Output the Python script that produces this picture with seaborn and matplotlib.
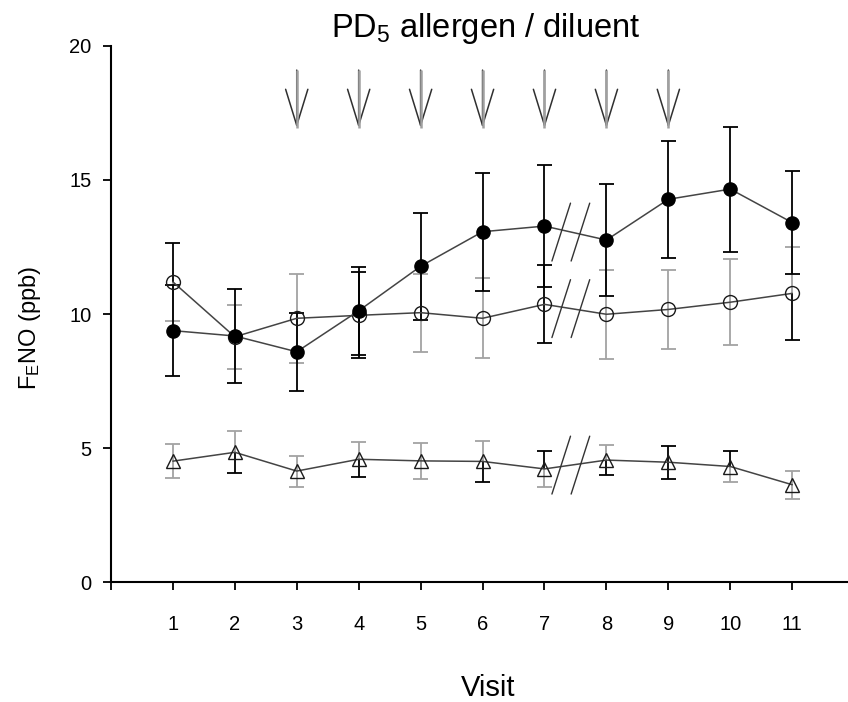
import numpy as np
import pandas as pd
import matplotlib
matplotlib.use("Agg")
import matplotlib.pyplot as plt
from matplotlib.patches import ArrowStyle
import seaborn as sns

# Visits and FENO summary values (mean and error) per group
visits = [1, 2, 3, 4, 5, 6, 7, 8, 9, 10, 11]
visit_labels = ["1", "2", "3", "4", "5", "6", "7", "8", "9", "10", "11"]

allergen_mean = [9.38, 9.18, 8.59, 10.12, 11.78, 13.07, 13.28, 12.76, 14.28, 14.66, 13.41]
allergen_err = [1.69, 1.74, 1.45, 1.65, 2.00, 2.20, 2.27, 2.09, 2.18, 2.33, 1.93]

diluent_mean = [11.20, 9.15, 9.84, 9.95, 10.05, 9.84, 10.36, 9.99, 10.17, 10.44, 10.77]
diluent_err = [1.45, 1.19, 1.65, 1.60, 1.45, 1.50, 1.45, 1.66, 1.47, 1.60, 1.74]
diluent_up_col = ["black", "gray", "gray", "black", "gray", "gray", "black", "gray", "gray", "gray", "gray"]
diluent_lo_col = ["gray", "gray", "gray", "black", "gray", "gray", "black", "gray", "gray", "gray", "black"]

control_mean = [4.51, 4.84, 4.14, 4.58, 4.52, 4.50, 4.22, 4.55, 4.47, 4.31, 3.63]
control_err = [0.63, 0.79, 0.58, 0.66, 0.68, 0.76, 0.68, 0.56, 0.62, 0.59, 0.53]
control_up_col = ["gray", "gray", "gray", "gray", "gray", "gray", "black", "gray", "black", "black", "gray"]
control_lo_col = ["gray", "black", "gray", "black", "gray", "black", "gray", "black", "black", "gray", "gray"]

challenge_visits = [3, 4, 5, 6, 7, 8, 9]
y_ticks = [0, 5, 10, 15, 20]

COLORS = {"black": "#000000", "gray": "#a3a3a3"}
LINE_COLOR = "#444444"
CAP_HALF = 0.12

sns.set_style("ticks")
plt.rcParams["font.family"] = ["Liberation Sans", "DejaVu Sans"]
plt.rcParams["mathtext.fontset"] = "custom"
plt.rcParams["mathtext.rm"] = "Liberation Sans"
plt.rcParams["mathtext.it"] = "Liberation Sans:italic"
for key in ("text.color", "axes.labelcolor", "xtick.color", "ytick.color",
            "xtick.labelcolor", "ytick.labelcolor"):
    plt.rcParams[key] = "black"

fig = plt.figure(figsize=(8.48, 7.02), dpi=100)
ax = fig.add_axes([0.1308, 0.1709, 0.8692, 0.7636])


def half_bars(x, y, err, colors, sign):
    """Draw one half (upper or lower) of each error bar, gray below black."""
    for xi, yi, ei, ci in zip(x, y, err, colors):
        z = 2 if ci == "gray" else 3
        end = yi + sign * ei
        ax.vlines(xi, yi, end, color=COLORS[ci], lw=1.3, zorder=z)
        ax.hlines(end, xi - CAP_HALF, xi + CAP_HALF, color=COLORS[ci], lw=1.3, zorder=z)


# error bars
half_bars(visits, diluent_mean, diluent_err, diluent_up_col, +1)
half_bars(visits, diluent_mean, diluent_err, diluent_lo_col, -1)
half_bars(visits, control_mean, control_err, control_up_col, +1)
half_bars(visits, control_mean, control_err, control_lo_col, -1)
half_bars(visits, allergen_mean, allergen_err, ["black"] * len(visits), +1)
half_bars(visits, allergen_mean, allergen_err, ["black"] * len(visits), -1)

# group lines with markers
sns.lineplot(x=visits, y=control_mean, ax=ax, color=LINE_COLOR, lw=1.1,
             marker="^", markersize=9.5, markerfacecolor="none",
             markeredgecolor="#1a1a1a", markeredgewidth=1.0, zorder=4)
sns.lineplot(x=visits, y=diluent_mean, ax=ax, color=LINE_COLOR, lw=1.1,
             marker="o", markersize=10, markerfacecolor="none",
             markeredgecolor="#1a1a1a", markeredgewidth=1.0, zorder=4)
sns.lineplot(x=visits, y=allergen_mean, ax=ax, color=LINE_COLOR, lw=1.1,
             marker="o", markersize=9.5, markerfacecolor="black",
             markeredgecolor="black", markeredgewidth=1.0, zorder=5)

# axis break marks between visits 7 and 8
for series in (allergen_mean, diluent_mean, control_mean):
    for xc in (7.27, 7.58):
        yc = float(np.interp(7.43, visits, series))
        ax.plot([xc - 0.15, xc + 0.15], [yc - 1.08, yc + 1.08],
                color="#333333", lw=1.0, zorder=6)

# challenge arrows
for v in challenge_visits:
    ax.annotate("", xy=(v, 16.94), xytext=(v, 19.1),
                arrowprops=dict(arrowstyle=ArrowStyle("->", head_length=26, head_width=8),
                                mutation_scale=1, color="#303030", lw=1.1,
                                shrinkA=0, shrinkB=0), zorder=6)
    ax.vlines(v, 16.94, 19.1, color="#a0a0a0", lw=1.8, zorder=7)

ax.set_xlim(0, 11.9)
ax.set_ylim(0, 20)
ax.set_xticks([0] + visits)
ax.set_xticklabels([""] + visit_labels)
ax.set_yticks(y_ticks)
ax.set_yticklabels([str(t) for t in y_ticks])
ax.tick_params(axis="x", direction="out", length=6, width=1.3, pad=18, labelsize=14.5)
ax.tick_params(axis="y", direction="out", length=6, width=1.3, pad=8, labelsize=14.5)
sns.despine(ax=ax)
for s in ("left", "bottom"):
    ax.spines[s].set_linewidth(1.5)
    ax.spines[s].set_color("black")
ax.set_xlabel("")
ax.set_ylabel("")

fig.text(486 / 848, 1 - 28 / 702, r"PD$_5$ allergen / diluent", fontsize=23.5,
         ha="center", va="center", color="black")
fig.text(488 / 848, 1 - 688 / 702, "Visit", fontsize=21, ha="center", va="center",
         color="black")
fig.text(30 / 848, 1 - 328 / 702, r"F$_{\mathrm{E}}$NO (ppb)", fontsize=17,
         rotation=90, ha="center", va="center", color="black")

fig.savefig("out.png", dpi=100)
